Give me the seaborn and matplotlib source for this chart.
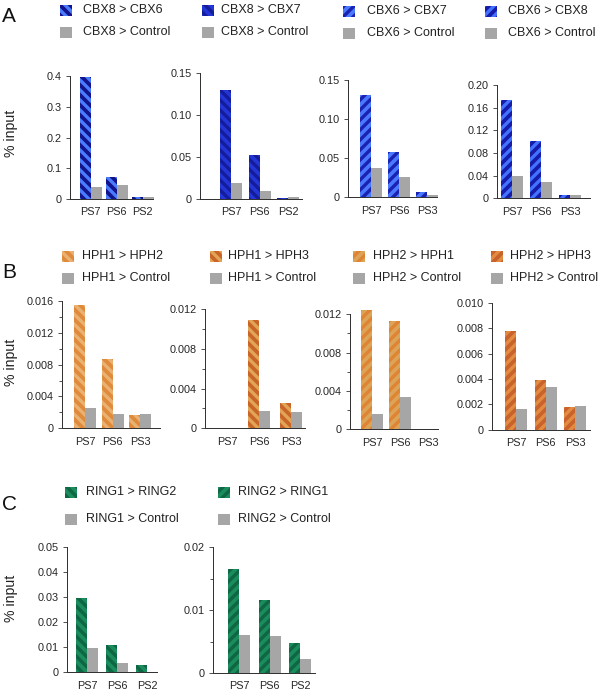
import numpy as np
import pandas as pd
import matplotlib
matplotlib.use("Agg")
import matplotlib.pyplot as plt
import seaborn as sns
from matplotlib.patches import Rectangle

nan = np.nan

# ---------------- Data ----------------
sites_A12 = ["PS7", "PS6", "PS2"]
sites_A34 = ["PS7", "PS6", "PS3"]
sites_B = ["PS7", "PS6", "PS3"]
sites_C = ["PS7", "PS6", "PS2"]

cbx8_cbx6 = [0.397, 0.071, 0.005]
cbx8_cbx6_ctrl = [0.038, 0.046, 0.007]
cbx8_cbx7 = [0.130, 0.052, 0.0015]
cbx8_cbx7_ctrl = [0.0195, 0.0095, 0.0022]
cbx6_cbx7 = [0.1305, 0.0575, 0.0065]
cbx6_cbx7_ctrl = [0.038, 0.0258, 0.0032]
cbx6_cbx8 = [0.174, 0.101, 0.0055]
cbx6_cbx8_ctrl = [0.040, 0.028, 0.006]

hph1_hph2 = [0.01545, 0.00875, 0.00168]
hph1_hph2_ctrl = [0.0025, 0.0018, 0.0018]
hph1_hph3 = [nan, 0.01093, 0.0025]
hph1_hph3_ctrl = [nan, 0.00177, 0.00165]
hph2_hph1 = [0.01245, 0.0113, nan]
hph2_hph1_ctrl = [0.0016, 0.0034, nan]
hph2_hph3 = [0.0078, 0.0039, 0.0018]
hph2_hph3_ctrl = [0.0016, 0.0034, 0.0019]

ring1_ring2 = [0.0295, 0.0109, 0.0029]
ring1_ring2_ctrl = [0.0095, 0.0036, nan]
ring2_ring1 = [0.0165, 0.0116, 0.0047]
ring2_ring1_ctrl = [0.0060, 0.0059, 0.0023]

labels_A = ["CBX8 > CBX6", "CBX8 > CBX7", "CBX6 > CBX7", "CBX6 > CBX8"]
ctrl_labels_A = ["CBX8 > Control", "CBX8 > Control", "CBX6 > Control", "CBX6 > Control"]
labels_B = ["HPH1 > HPH2", "HPH1 > HPH3", "HPH2 > HPH1", "HPH2 > HPH3"]
ctrl_labels_B = ["HPH1 > Control", "HPH1 > Control", "HPH2 > Control", "HPH2 > Control"]
labels_C = ["RING1 > RING2", "RING2 > RING1"]
ctrl_labels_C = ["RING1 > Control", "RING2 > Control"]

yt_A1 = [0, 0.1, 0.2, 0.3, 0.4]
ytl_A1 = ["0", "0.1", "0.2", "0.3", "0.4"]
yt_A23 = [0, 0.05, 0.10, 0.15]
ytl_A23 = ["0", "0.05", "0.10", "0.15"]
yt_A4 = [0, 0.04, 0.08, 0.12, 0.16, 0.20]
ytl_A4 = ["0", "0.04", "0.08", "0.12", "0.16", "0.20"]
yt_B1 = [0, 0.004, 0.008, 0.012, 0.016]
ytl_B1 = ["0", "0.004", "0.008", "0.012", "0.016"]
yt_B23 = [0, 0.004, 0.008, 0.012]
ytl_B23 = ["0", "0.004", "0.008", "0.012"]
yt_B4 = [0, 0.002, 0.004, 0.006, 0.008, 0.010]
ytl_B4 = ["0", "0.002", "0.004", "0.006", "0.008", "0.010"]
yt_C1 = [0, 0.01, 0.02, 0.03, 0.04, 0.05]
ytl_C1 = ["0", "0.01", "0.02", "0.03", "0.04", "0.05"]
yt_C2 = [0, 0.01, 0.02]
ytl_C2 = ["0", "0.01", "0.02"]

GRAY = "#a6a6a6"

# ---------------- Style ----------------
sns.set_style("white")
plt.rcParams["font.family"] = ["Liberation Sans", "DejaVu Sans"]
plt.rcParams["hatch.linewidth"] = 2.0

W, H = 600, 690
DPI = 120
fig = plt.figure(figsize=(W / DPI, H / DPI), dpi=DPI)
fig.patch.set_facecolor("white")

BS, FS = "\\\\\\\\", "////"

panels = [
    dict(lab=labels_A[0], clab=ctrl_labels_A[0], sites=sites_A12, v=cbx8_cbx6, c=cbx8_cbx6_ctrl,
         base="#12148c", stripe="#4a7cff", hatch=BS, yt=yt_A1, ytl=ytl_A1, minor=None,
         geo=(70, 90.5, 26, 153, 76, 199), leg=(60, 83, 10, 32)),
    dict(lab=labels_A[1], clab=ctrl_labels_A[1], sites=sites_A12, v=cbx8_cbx7, c=cbx8_cbx7_ctrl,
         base="#2236d6", stripe="#141c9c", hatch=BS, yt=yt_A23, ytl=ytl_A23, minor=None,
         geo=(200, 231, 28.5, 302, 73, 199), leg=(202, 221, 10, 32)),
    dict(lab=labels_A[2], clab=ctrl_labels_A[2], sites=sites_A34, v=cbx6_cbx7, c=cbx6_cbx7_ctrl,
         base="#4a78ff", stripe="#1a22b0", hatch=FS, yt=yt_A23, ytl=ytl_A23, minor=None,
         geo=(348, 371, 28, 437, 80, 197.5), leg=(343, 367, 11, 33)),
    dict(lab=labels_A[3], clab=ctrl_labels_A[3], sites=sites_A34, v=cbx6_cbx8, c=cbx6_cbx8_ctrl,
         base="#161ca8", stripe="#4272ff", hatch=FS, yt=yt_A4, ytl=ytl_A4, minor=None,
         geo=(497, 512, 29, 590, 85, 198.3), leg=(485, 508, 11, 33)),
    dict(lab=labels_B[0], clab=ctrl_labels_B[0], sites=sites_B, v=hph1_hph2, c=hph1_hph2_ctrl,
         base="#e08a3c", stripe="#e9b272", hatch=BS, yt=yt_B1, ytl=ytl_B1,
         minor=[0.002, 0.006, 0.010, 0.014],
         geo=(62, 85, 27.5, 160, 301, 428.3), leg=(62, 82, 256, 278)),
    dict(lab=labels_B[1], clab=ctrl_labels_B[1], sites=sites_B, v=hph1_hph3, c=hph1_hph3_ctrl,
         base="#c9652a", stripe="#e2a555", hatch=BS, yt=yt_B23, ytl=ytl_B23,
         minor=[0.002, 0.006, 0.010],
         geo=(205, 227, 32, 305, 309, 428.3), leg=(210, 228, 256, 278)),
    dict(lab=labels_B[2], clab=ctrl_labels_B[2], sites=sites_B, v=hph2_hph1, c=hph2_hph1_ctrl,
         base="#dba458", stripe="#e08434", hatch=FS, yt=yt_B23, ytl=ytl_B23,
         minor=[0.002, 0.006, 0.010],
         geo=(350, 372, 28, 438, 314.3, 429.3), leg=(353, 373, 256, 278)),
    dict(lab=labels_B[3], clab=ctrl_labels_B[3], sites=sites_B, v=hph2_hph3, c=hph2_hph3_ctrl,
         base="#c9622b", stripe="#e28c42", hatch=FS, yt=yt_B4, ytl=ytl_B4, minor=None,
         geo=(492, 516, 29.5, 590, 302.7, 429.7), leg=(491, 510, 256, 278)),
    dict(lab=labels_C[0], clab=ctrl_labels_C[0], sites=sites_C, v=ring1_ring2, c=ring1_ring2_ctrl,
         base="#1b8c5c", stripe="#0f6644", hatch=BS, yt=yt_C1, ytl=ytl_C1, minor=None,
         geo=(67, 87, 30, 157, 546.7, 672.3), leg=(65, 86, 492, 519)),
    dict(lab=labels_C[1], clab=ctrl_labels_C[1], sites=sites_C, v=ring2_ring1, c=ring2_ring1_ctrl,
         base="#1b8c5c", stripe="#0f6644", hatch=FS, yt=yt_C2, ytl=ytl_C2, minor=[0.005, 0.015],
         geo=(213, 239, 30.5, 315, 547.3, 673), leg=(218, 238, 492, 519)),
]

SPINE = "#333333"
PW, PH = 12, 11

for p in panels:
    left, c0, sp, right, top, zero = p["geo"]
    ax = fig.add_axes([left / W, 1 - zero / H, (right - left) / W, (zero - top) / H])
    df = pd.DataFrame({
        "site": p["sites"] * 2,
        "value": list(p["v"]) + list(p["c"]),
        "series": [p["lab"]] * len(p["sites"]) + [p["clab"]] * len(p["sites"]),
    }).dropna()
    sns.barplot(data=df, x="site", y="value", hue="series", order=p["sites"],
                hue_order=[p["lab"], p["clab"]], palette=[p["base"], GRAY],
                saturation=1, width=22 / sp, errorbar=None, legend=False, ax=ax)
    for bar in ax.containers[0]:
        bar.set_hatch(p["hatch"])
        bar.set_edgecolor(p["stripe"])
        bar.set_linewidth(0)
        bar.set_clip_on(False)
    for bar in ax.containers[1]:
        bar.set_linewidth(0)
        bar.set_clip_on(False)
    ax.set_xlim((left - c0) / sp, (right - c0) / sp)
    ax.set_ylim(0, p["yt"][-1])
    ax.set_yticks(p["yt"])
    ax.set_yticklabels(p["ytl"])
    if p["minor"]:
        ax.set_yticks(p["minor"], minor=True)
    ax.set_xlabel("")
    ax.set_ylabel("")
    ax.set_facecolor("none")
    for s in ["top", "right"]:
        ax.spines[s].set_visible(False)
    for s in ["left", "bottom"]:
        ax.spines[s].set_color(SPINE)
        ax.spines[s].set_linewidth(0.6)
    ax.tick_params(axis="y", which="major", direction="out", length=2.5, width=0.5,
                   color=SPINE, labelsize=6.5, pad=2.5, left=True)
    ax.tick_params(axis="y", which="minor", direction="out", length=1.6, width=0.5,
                   color=SPINE, left=True)
    ax.tick_params(axis="x", length=0, labelsize=6.5, pad=5)

    pl, tl, y1, y2 = p["leg"]
    for (lbl, fc, hatch, ec, yc) in [(p["lab"], p["base"], p["hatch"], p["stripe"], y1),
                                     (p["clab"], GRAY, None, GRAY, y2)]:
        r = Rectangle((pl / W, 1 - (yc + PH / 2) / H), PW / W, PH / H,
                      transform=fig.transFigure, facecolor=fc, edgecolor=ec,
                      hatch=hatch, linewidth=0)
        fig.add_artist(r)
        fig.text(tl / W, 1 - yc / H, lbl, fontsize=7.5, va="center", ha="left", color="#222222")

for letter, yc in [("A", 17), ("B", 273), ("C", 505)]:
    fig.text(2 / W, 1 - yc / H, letter, fontsize=12.5, va="center", ha="left", color="#111111")

for yc in [133, 362, 598]:
    fig.text(11 / W, 1 - yc / H, "% input", fontsize=8.5, rotation=90,
             va="center", ha="center", color="#222222")

fig.savefig("out.png", dpi=DPI, facecolor="white")
